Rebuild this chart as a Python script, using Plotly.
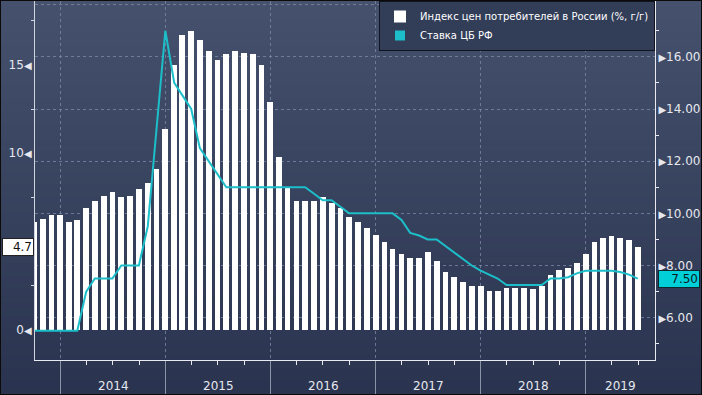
import plotly.graph_objects as go
import pandas as pd

# ---------------- data ----------------
months = pd.period_range("2013-09", "2019-06", freq="M")

cpi = [6.1, 6.3, 6.5, 6.5,
       6.1, 6.2, 6.9, 7.3, 7.6, 7.8, 7.5, 7.6, 8.0, 8.3, 9.1, 11.4,
       15.0, 16.7, 16.9, 16.4, 15.8, 15.3, 15.6, 15.8, 15.7, 15.6, 15.0, 12.9,
       9.8, 8.1, 7.3, 7.3, 7.3, 7.5, 7.2, 6.9, 6.4, 6.1, 5.8, 5.4,
       5.0, 4.6, 4.3, 4.1, 4.1, 4.4, 3.9, 3.3, 3.0, 2.7, 2.5, 2.5,
       2.2, 2.2, 2.4, 2.4, 2.4, 2.3, 2.5, 3.1, 3.4, 3.5, 3.8, 4.3,
       5.0, 5.2, 5.3, 5.2, 5.1, 4.7]

key_rate = [5.5, 5.5, 5.5, 5.5,
            5.5, 5.5, 7.0, 7.5, 7.5, 7.5, 8.0, 8.0, 8.0, 9.5, 13.25, 17.0,
            15.0, 14.5, 14.0, 12.5, 12.0, 11.5, 11.0, 11.0, 11.0, 11.0, 11.0, 11.0,
            11.0, 11.0, 11.0, 11.0, 10.75, 10.5, 10.5, 10.25, 10.0, 10.0, 10.0, 10.0,
            10.0, 10.0, 9.75, 9.25, 9.15, 9.0, 9.0, 8.75, 8.5, 8.25, 8.0, 7.8,
            7.65, 7.5, 7.25, 7.25, 7.25, 7.25, 7.25, 7.5, 7.5, 7.55, 7.7, 7.8,
            7.8, 7.8, 7.8, 7.75, 7.65, 7.5]

years = [2014, 2015, 2016, 2017, 2018, 2019]
left_ticks = [0, 5, 10, 15]
left_hidden = [5]          # covered by the last-value label in the reference
right_ticks = [6, 8, 10, 12, 14, 16, 18]

name_cpi = "Индекс цен потребителей в России (%, г/г)"
name_rate = "Ставка ЦБ РФ"

# ---------------- style ----------------
FONT = "DejaVu Sans"
CYAN = "#1cbfc9"
TXT = "#e6e8ee"
GRID = "rgba(125,140,168,0.75)"
x_range = ["2013-10-04", "2019-08-29"]

x = months.to_timestamp(how="end").normalize()
bar_w = 20 * 24 * 3600 * 1000

fig = go.Figure()
fig.add_trace(go.Bar(x=x, y=cpi, name=name_cpi, marker=dict(color="white", line=dict(width=0)),
                     width=bar_w, yaxis="y", showlegend=True))
fig.add_trace(go.Scatter(x=x, y=key_rate, name=name_rate, mode="lines",
                         line=dict(color=CYAN, width=2), yaxis="y2", showlegend=False))
# legend entry for the line shown as a square, like the reference
fig.add_trace(go.Scatter(x=[None], y=[None], name=name_rate, mode="markers",
                         marker=dict(symbol="square", size=10, color=CYAN), yaxis="y2"))

W, H = 702, 395
ml, mr, mt, mb = 35, 47, 1, 35
pw, ph = W - ml - mr, H - mt - mb

# background gradient over whole figure
shapes = []
n = 60
top = (69, 81, 109)
bot = (42, 52, 79)
py0, py1 = -mb / ph, 1 + mt / ph
px0, px1 = -ml / pw, 1 + mr / pw
for i in range(n):
    t = i / (n - 1)
    c = tuple(round(bot[k] + (top[k] - bot[k]) * t) for k in range(3))
    shapes.append(dict(type="rect", xref="paper", yref="paper", layer="below",
                       x0=px0, x1=px1,
                       y0=py0 + (py1 - py0) * i / n, y1=py0 + (py1 - py0) * (i + 1) / n + 0.002,
                       fillcolor="rgb(%d,%d,%d)" % c, line=dict(width=0)))
shapes.append(dict(type="rect", xref="paper", yref="paper", layer="above",
                   x0=px0, x1=px1, y0=py0, y1=py1, line=dict(color="#0b0b0b", width=2),
                   fillcolor="rgba(0,0,0,0)"))

# year labels centred in the visible part of each year
annotations = []
r0, r1 = pd.Timestamp(x_range[0]), pd.Timestamp(x_range[1])
for yv in [2013] + years:
    a = max(pd.Timestamp(f"{yv}-01-01"), r0)
    b = min(pd.Timestamp(f"{yv + 1}-01-01"), r1)
    if (b - a).days < 120:
        continue
    annotations.append(dict(x=a + (b - a) / 2, xref="x", y=0, yref="paper", yshift=-26,
                            text=str(yv), showarrow=False, yanchor="middle",
                            font=dict(family=FONT, size=12, color=TXT)))

annotations.append(dict(x=0, xref="paper", y=cpi[-1], yref="y", xanchor="right", xshift=-1,
                        text="4.7", showarrow=False, bgcolor="white", bordercolor="#222",
                        borderwidth=1, borderpad=1, width=28, align="right",
                        font=dict(family=FONT, size=12, color="#111")))
annotations.append(dict(x=1, xref="paper", y=key_rate[-1], yref="y2", xanchor="left", xshift=3,
                        text="%.2f" % key_rate[-1], showarrow=False, bgcolor="#00cfd8",
                        bordercolor="#0a2a30", borderwidth=1, borderpad=1, width=38,
                        align="right", font=dict(family=FONT, size=12, color="#0a1a25")))

tri_l = "<span style='font-size:10px'>◀</span>"
tri_r = "<span style='font-size:10px'>▶</span>"

fig.update_layout(
    width=W, height=H,
    margin=dict(l=ml, r=mr, t=mt, b=mb, pad=0),
    paper_bgcolor="#37425e",
    plot_bgcolor="rgba(0,0,0,0)",
    font=dict(family=FONT, size=12, color=TXT),
    bargap=0,
    shapes=shapes,
    annotations=annotations,
    showlegend=True,
    legend=dict(x=1, xanchor="right", y=1, yanchor="top", xref="paper", yref="paper",
                bgcolor="#323d58", bordercolor="#101420", borderwidth=1,
                font=dict(family=FONT, size=10, color="white"),
                itemwidth=30, tracegroupgap=0, traceorder="normal"),
    xaxis=dict(type="date", range=x_range, automargin=False,
               tickvals=[pd.Timestamp(f"{yv}-01-01") for yv in years],
               ticktext=["" for _ in years],
               ticks="outside", ticklen=35, tickwidth=1, tickcolor="#8b93a7",
               showgrid=True, gridcolor=GRID, griddash="dot", gridwidth=1,
               showline=True, linecolor="#e8eaf0", linewidth=1,
               minor=dict(dtick="M3", tick0="2014-01-01", ticks="outside", ticklen=4,
                          tickcolor="#e8eaf0", showgrid=False),
               zeroline=False, fixedrange=True),
    yaxis=dict(range=[-1.70, 18.62], automargin=False,
               tickvals=left_ticks,
               ticktext=[("" if v in left_hidden else f"{v}{tri_l}") for v in left_ticks],
               ticks="", showgrid=False, zeroline=False,
               showline=True, linecolor="#d0d4dc", linewidth=1,
               tickfont=dict(family=FONT, size=12, color=TXT),
               minor=dict(tickvals=[2.5, 7.5, 12.5, 17.5], ticks="outside", ticklen=3,
                          tickcolor="#d0d4dc", showgrid=False)),
    yaxis2=dict(range=[4.378, 18.14], overlaying="y", side="right", automargin=False,
                tickvals=right_ticks,
                ticktext=[f"{tri_r}{v:.2f}" if v < 18 else tri_r for v in right_ticks],
                ticks="", showgrid=True, gridcolor=GRID, griddash="dot", gridwidth=1,
                zeroline=False, showline=True, linecolor="#e8eaf0", linewidth=1,
                tickfont=dict(family=FONT, size=12, color=TXT),
                minor=dict(tickvals=[5, 7, 9, 11, 13, 15, 17], ticks="outside", ticklen=3,
                           tickcolor="#e8eaf0", showgrid=False)),
)

fig.write_html("out.html", config={"displayModeBar": False},
               post_script="document.body.style.margin='0';document.body.style.overflow='hidden';")
